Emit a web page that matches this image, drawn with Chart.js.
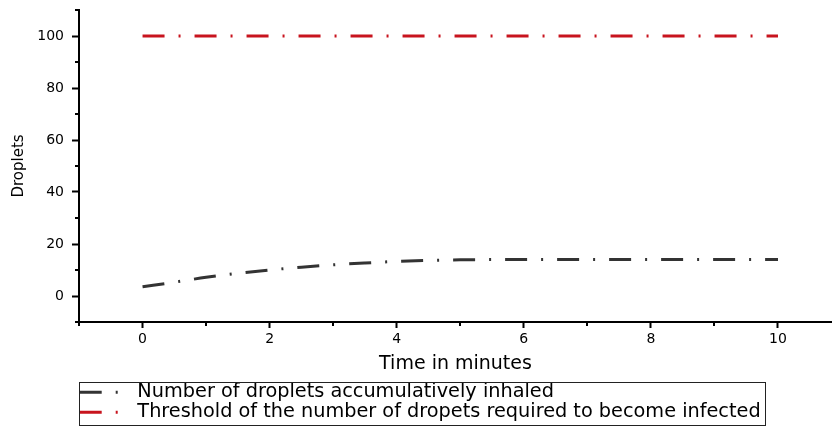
<!DOCTYPE html>
<html>
<head>
<meta charset="utf-8">
<script src="https://cdn.jsdelivr.net/npm/chart.js@4.4.0/dist/chart.umd.min.js"></script>
<style>
    html, body { margin: 0; padding: 0; background: #fff; }
    #box { width: 832px; height: 426px; }
</style>
</head>
<body>
<div id="box"><canvas id="droplets"></canvas></div>
<script>
// time in minutes vs droplets inhaled
var times = [0, 0.5, 1, 1.5, 2, 2.5, 3, 3.5, 4, 4.5, 5, 5.5, 6, 7, 8, 9, 10];
var inhaled = [3.6, 5.3, 7.2, 8.7, 10.0, 11.1, 12.0, 12.7, 13.3, 13.7, 13.9, 14.0, 14.0, 14.0, 14.0, 14.0, 14.0];
var thresholdTimes = [0, 10];
var thresholdValues = [100, 100];

var labels = [
    'Number of droplets accumulatively inhaled',
    'Threshold of the number of dropets required to become infected'
];

var xTicks = [0, 2, 4, 6, 8, 10];
var xMinorTicks = [-1, 1, 3, 5, 7, 9];
var yTicks = [0, 20, 40, 60, 80, 100];
var yMinorTicks = [-10, 10, 30, 50, 70, 90, 110];

function toPoints(xs, ys) {
    return xs.map(function (x, i) { return { x: x, y: ys[i] }; });
}

// minor ticks + frame round the legend
var extrasPlugin = {
    id: 'extras',
    afterDraw: function (chart) {
        var ctx = chart.ctx;
        var sx = chart.scales.x;
        var sy = chart.scales.y;
        ctx.save();
        ctx.strokeStyle = '#000';
        ctx.lineWidth = 2;
        ctx.beginPath();
        xMinorTicks.forEach(function (v) {
            var px = Math.round(sx.getPixelForValue(v));
            ctx.moveTo(px, sx.top);
            ctx.lineTo(px, sx.top + 4);
        });
        yMinorTicks.forEach(function (v) {
            var py = Math.round(sy.getPixelForValue(v));
            ctx.moveTo(sy.right, py);
            ctx.lineTo(sy.right - 4, py);
        });
        ctx.stroke();

        var boxes = chart.legend.legendHitBoxes;
        if (boxes && boxes.length) {
            var right = 0;
            boxes.forEach(function (b) { right = Math.max(right, b.left + b.width); });
            var top = Math.round(boxes[0].top - 1);
            var last = boxes[boxes.length - 1];
            var bottom = Math.round(last.top + last.height + 3);
            var left = Math.round(chart.legend.left);
            ctx.lineWidth = 1;
            ctx.strokeStyle = '#222';
            ctx.strokeRect(left + 0.5, top + 0.5, Math.round(right + 4) - left, bottom - top);
        }
        ctx.restore();
    }
};

var config = {
    type: 'line',
    data: {
        datasets: [{
            label: labels[0],
            data: toPoints(times, inhaled),
            borderColor: '#333333',
            backgroundColor: '#333333',
            borderWidth: 3,
            borderDash: [22, 14, 2, 14],
            pointRadius: 0,
            cubicInterpolationMode: 'monotone',
            fill: false
        }, {
            label: labels[1],
            data: toPoints(thresholdTimes, thresholdValues),
            borderColor: '#c8141e',
            backgroundColor: '#c8141e',
            borderWidth: 3,
            borderDash: [22, 14, 2, 14],
            pointRadius: 0,
            fill: false
        }]
    },
    options: {
        responsive: true,
        maintainAspectRatio: false,
        animation: false,
        layout: { padding: { top: 10, right: 0, bottom: -6, left: 0 } },
        plugins: {
            tooltip: { enabled: false },
            legend: {
                position: 'bottom',
                align: 'start',
                fullSize: false,
                labels: {
                    usePointStyle: true,
                    pointStyle: 'line',
                    pointStyleWidth: 48,
                    padding: 0.7,
                    color: '#000',
                    font: { family: 'DejaVu Sans', size: 19.3 },
                    generateLabels: function (chart) {
                        var items = Chart.defaults.plugins.legend.labels.generateLabels(chart);
                        items.forEach(function (item) {
                            var ds = chart.data.datasets[item.datasetIndex];
                            item.lineDash = ds.borderDash;
                            item.lineWidth = ds.borderWidth;
                            item.strokeStyle = ds.borderColor;
                            item.lineCap = 'butt';
                        });
                        return items;
                    }
                }
            }
        },
        scales: {
            x: {
                type: 'linear',
                min: -1,
                max: 10.85,
                afterBuildTicks: function (scale) {
                    scale.ticks = xTicks.map(function (v) { return { value: v }; });
                },
                afterFit: function (scale) {
                    scale.height = 60;
                    scale.paddingLeft = 0;
                    scale.paddingRight = 0;
                },
                grid: { drawOnChartArea: false, tickLength: 6, tickWidth: 2, tickColor: '#000' },
                border: { display: true, color: '#000', width: 2 },
                ticks: {
                    padding: 3,
                    color: '#000',
                    maxRotation: 0,
                    font: { family: 'DejaVu Sans', size: 14 }
                },
                title: {
                    display: true,
                    text: 'Time in minutes',
                    color: '#000',
                    padding: { top: 4, bottom: 7 },
                    font: { family: 'DejaVu Sans', size: 19 }
                }
            },
            y: {
                type: 'linear',
                min: -10,
                max: 110,
                afterBuildTicks: function (scale) {
                    scale.ticks = yTicks.map(function (v) { return { value: v }; });
                },
                afterFit: function (scale) {
                    scale.width = 79;
                    scale.paddingTop = 0;
                    scale.paddingBottom = 0;
                },
                grid: { drawOnChartArea: false, tickLength: 7, tickWidth: 2, tickColor: '#000' },
                border: { display: true, color: '#000', width: 2 },
                ticks: {
                    padding: 8,
                    color: '#000',
                    font: { family: 'DejaVu Sans', size: 14 }
                },
                title: {
                    display: true,
                    text: 'Droplets',
                    color: '#000',
                    padding: { top: 10, bottom: 0 },
                    font: { family: 'DejaVu Sans', size: 15 }
                }
            }
        }
    },
    plugins: [extrasPlugin]
};

var dropletChart = new Chart(document.getElementById('droplets'), config);
</script>
</body>
</html>
